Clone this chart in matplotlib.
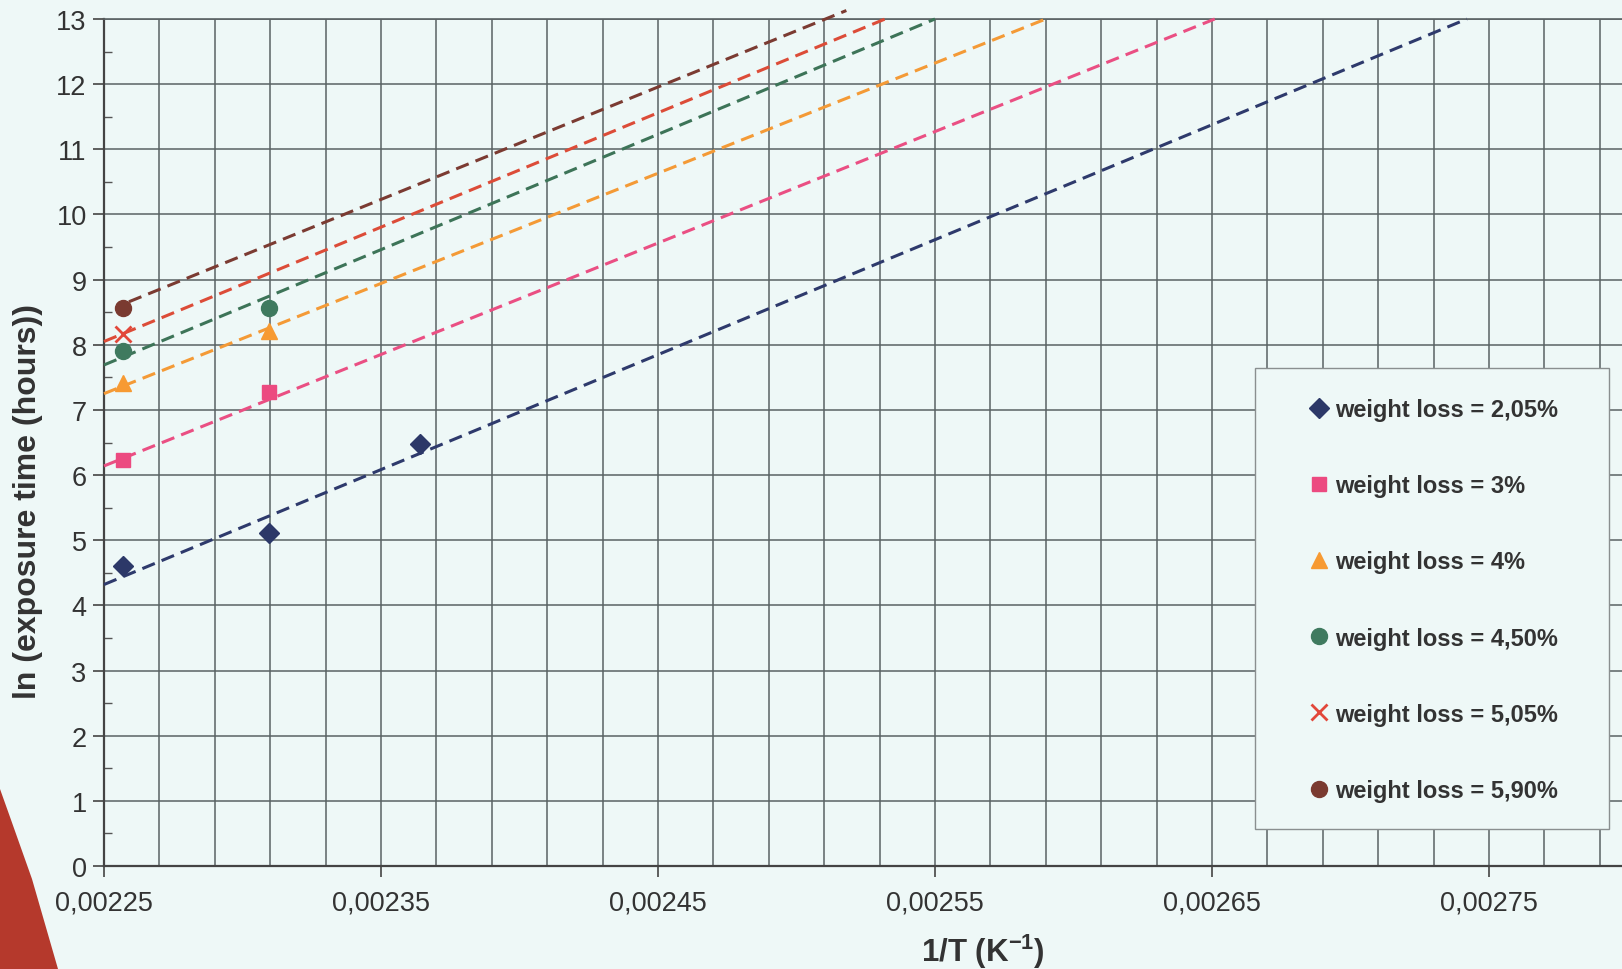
import matplotlib

matplotlib.use("Agg")
import matplotlib.pyplot as plt
from matplotlib.patches import Polygon, Rectangle
from matplotlib.ticker import FuncFormatter, MultipleLocator

plt.rcParams["font.family"] = ["Liberation Sans", "DejaVu Sans"]
plt.rcParams["mathtext.fontset"] = "custom"
plt.rcParams["mathtext.rm"] = "Liberation Sans"
plt.rcParams["mathtext.bf"] = "Liberation Sans:bold"

BG = "#eef8f7"
GRID = "#5a6264"
TEXT = "#333333"

# 1/T of the three test temperatures (K^-1)
INV_T = [0.002257, 0.0023095, 0.0023641]

LABELS = [
    "weight loss = 2,05%",
    "weight loss = 3%",
    "weight loss = 4%",
    "weight loss = 4,50%",
    "weight loss = 5,05%",
    "weight loss = 5,90%",
]

# ln(exposure time) measured points
LN_T_205 = [4.61, 5.11, 6.47]
LN_T_300 = [6.23, 7.27]
LN_T_400 = [7.42, 8.21]
LN_T_450 = [7.90, 8.56]
LN_T_505 = [8.17]
LN_T_590 = [8.56]

# dashed trend lines (start, end)
TREND_X0 = [0.00225, 0.00225, 0.00225, 0.00225, 0.00225, 0.002259]
TREND_Y0 = [4.32, 6.14, 7.25, 7.69, 8.05, 8.66]
TREND_X1 = [0.002742, 0.002651, 0.002590, 0.002550, 0.002532, 0.002518]
TREND_Y1 = [13.0, 13.0, 13.0, 13.0, 13.0, 13.13]

COLORS = ["#2c3868", "#ec4a80", "#f79a32", "#3f7a5f", "#e2473a", "#7a3a30"]
LINE_COLORS = ["#2e3a6c", "#ea4f83", "#f49a36", "#3d7458", "#dc4c38", "#7b3b32"]
MARKERS = ["D", "s", "^", "o", "x", "o"]
SIZES = [10, 10.5, 11.5, 11.5, 11, 11.5]

series = [LN_T_205, LN_T_300, LN_T_400, LN_T_450, LN_T_505, LN_T_590]

fig = plt.figure(figsize=(16.22, 9.70), dpi=100, facecolor=BG)
ax = fig.add_axes([104 / 1622, 103 / 970, 1523.5 / 1622, 847 / 970])
ax.set_facecolor(BG)

# trend lines
for i in range(len(series)):
    ax.plot(
        [TREND_X0[i], TREND_X1[i]],
        [TREND_Y0[i], TREND_Y1[i]],
        color=LINE_COLORS[i],
        lw=2.2,
        dashes=(4.4, 2.4),
        clip_on=False,
        zorder=3,
    )

handles = []
for i, ys in enumerate(series):
    xs = INV_T[: len(ys)]
    if MARKERS[i] == "x":
        (h,) = ax.plot(xs, ys, ls="none", marker="x", ms=SIZES[i],
                       mew=2.0, color=COLORS[i], zorder=4)
    else:
        (h,) = ax.plot(xs, ys, ls="none", marker=MARKERS[i], ms=SIZES[i],
                       mec=COLORS[i], mfc=COLORS[i], zorder=4)
    handles.append(h)

ax.set_xlim(0.00225, 0.0028)
ax.set_ylim(0, 13)

ax.xaxis.set_major_locator(MultipleLocator(0.0001, offset=0.00005))
ax.xaxis.set_minor_locator(MultipleLocator(0.00002, offset=0.00001))
ax.yaxis.set_major_locator(MultipleLocator(1))
ax.yaxis.set_minor_locator(MultipleLocator(0.5))

ax.xaxis.set_major_formatter(FuncFormatter(lambda x, _: f"{x:.5f}".replace(".", ",")))
ax.yaxis.set_major_formatter(FuncFormatter(lambda y, _: f"{y:g}"))

ax.grid(True, which="major", axis="y", color=GRID, lw=1.1)
ax.grid(True, which="both", axis="x", color=GRID, lw=1.1)
ax.set_axisbelow(True)

ax.tick_params(axis="both", which="major", direction="out", length=8,
               width=1.2, color="#444444", labelsize=19.5, labelcolor=TEXT)
ax.tick_params(axis="x", which="major", pad=9)
ax.tick_params(axis="y", which="major", pad=4.5)
ax.tick_params(axis="y", which="minor", direction="in", length=6,
               width=1.0, color="#555555")
ax.tick_params(axis="x", which="minor", length=0)

for side in ["left", "bottom"]:
    ax.spines[side].set_color("#444444")
    ax.spines[side].set_linewidth(1.6)
ax.spines["top"].set_color(GRID)
ax.spines["top"].set_linewidth(1.2)
ax.spines["right"].set_visible(False)

ax.set_ylabel("ln (exposure time (hours))", fontsize=23, fontweight="bold", color=TEXT)
ax.yaxis.set_label_coords(-0.0499, 0.431)
ax.yaxis.label.set_va("center")
ax.set_xlabel(r"1/T (K$^{\mathbf{-1}}$)", fontsize=22.5, fontweight="bold", color=TEXT)
ax.xaxis.set_label_coords(0.577, -0.100)
ax.xaxis.label.set_va("center")

# legend box drawn on its own so its padding can follow the reference
box = Rectangle((0.7555, 0.0437), 0.9879 - 0.7555, 0.588 - 0.0437,
                transform=ax.transAxes, facecolor=BG, edgecolor="#8a8f90",
                lw=1.0, zorder=5)
ax.add_patch(box)

leg = ax.legend(
    handles, LABELS,
    loc="upper left",
    bbox_to_anchor=(0.7752, 0.5844),
    frameon=False,
    prop={"size": 17, "weight": "bold"},
    labelspacing=2.25, handlelength=0.6, handletextpad=0.35,
    borderpad=1.15, borderaxespad=0.0, numpoints=1,
)
leg.set_zorder(6)
for t in leg.get_texts():
    t.set_color(TEXT)

# red page-edge wedge of the scan
pts = [(0, 790), (10, 818), (32, 880), (58, 970), (0, 970)]
fig.patches.append(Polygon([(x / 1622, 1 - y / 970) for x, y in pts],
                           closed=True, transform=fig.transFigure,
                           facecolor="#b5392c", edgecolor="none", zorder=0))

fig.savefig("out.png", dpi=100, facecolor=BG)
